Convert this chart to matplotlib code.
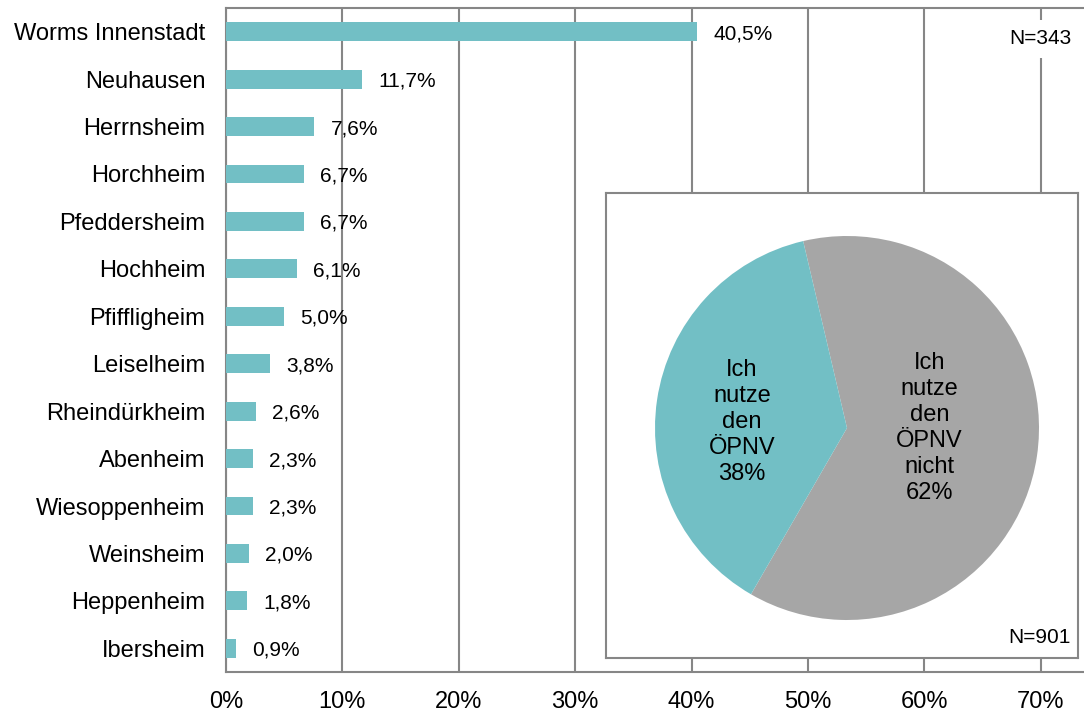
import matplotlib
matplotlib.use("Agg")
import matplotlib.pyplot as plt
from matplotlib.ticker import FixedLocator

plt.rcParams['font.family'] = ['Liberation Sans', 'DejaVu Sans']

categories = ["Worms Innenstadt", "Neuhausen", "Herrnsheim", "Horchheim", "Pfeddersheim",
              "Hochheim", "Pfiffligheim", "Leiselheim", "Rheindürkheim", "Abenheim",
              "Wiesoppenheim", "Weinsheim", "Heppenheim", "Ibersheim"]
values = [40.5, 11.7, 7.6, 6.7, 6.7, 6.1, 5.0, 3.8, 2.6, 2.3, 2.3, 2.0, 1.8, 0.9]
xticks = [0, 10, 20, 30, 40, 50, 60, 70]
bar_n_label = "N=343"

pie_labels = ["Ich\nnutze\nden\nÖPNV\nnicht", "Ich\nnutze\nden\nÖPNV"]
pie_values = [62, 38]
pie_n_label = "N=901"

TEAL = "#72BFC5"
GRAY = "#A6A6A6"
LINE = "#868686"

W, H = 1084, 713
fig = plt.figure(figsize=(W / 100, H / 100), dpi=100)

def fr(x0, y0, x1, y1):
    return [x0 / W, 1 - y1 / H, (x1 - x0) / W, (y1 - y0) / H]

ax = fig.add_axes(fr(226, 8, 1084, 672))
ypos = list(range(len(categories)))
ax.barh(ypos, values, height=0.4, color=TEAL, zorder=3)
ax.set_ylim(len(categories) - 0.5, -0.5)
ax.set_xlim(0, (1084 - 226) / 116.4 * 10)
ax.set_yticks(ypos)
ax.set_yticklabels(categories, fontsize=17)
ax.xaxis.set_major_locator(FixedLocator(xticks))
ax.set_xticklabels([f"{t}%" for t in xticks], fontsize=17)
ax.tick_params(axis='y', length=0, pad=15)
ax.tick_params(axis='x', length=0, pad=14)
for side in ['left', 'top', 'bottom']:
    ax.spines[side].set_color(LINE)
    ax.spines[side].set_linewidth(1.5)
ax.spines['right'].set_visible(False)
ax.grid(axis='x', color=LINE, linewidth=1.5, zorder=0)
ax.set_axisbelow(True)
for y, v in zip(ypos, values):
    ax.annotate(f"{v:.1f}%".replace('.', ','), (v, y), xytext=(16, -2),
                textcoords='offset pixels',
                ha='left', va='center', fontsize=15, zorder=4)
ax.text(70, 0.15, bar_n_label, ha='center', va='center', fontsize=15, zorder=5,
        bbox=dict(facecolor='white', edgecolor='none', pad=7))

# inset box
box = fig.add_axes(fr(606, 193, 1078, 658), zorder=2)
box.set_facecolor('white')
box.set_xticks([]); box.set_yticks([])
for s in box.spines.values():
    s.set_color(LINE)
    s.set_linewidth(1.5)
box.text(0.985, 0.045, pie_n_label, transform=box.transAxes, ha='right', va='center', fontsize=15)

pax = fig.add_axes(fr(655, 236, 1039, 620), zorder=3)
pax.pie(pie_values, colors=[GRAY, TEAL], startangle=103.2, counterclock=False,
        radius=1, wedgeprops=dict(linewidth=0))
pax.set_xlim(-1, 1); pax.set_ylim(-1, 1)
pax.set_aspect('equal')
pax.axis('off')
label_pos = [(0.43, 0.0), (-0.547, 0.03)]
for (lx, ly), lab, v in zip(label_pos, pie_labels, pie_values):
    pax.text(lx, ly, f"{lab}\n{v}%", ha='center', va='center', fontsize=17, linespacing=1.23)

fig.savefig("out.png", dpi=100)
